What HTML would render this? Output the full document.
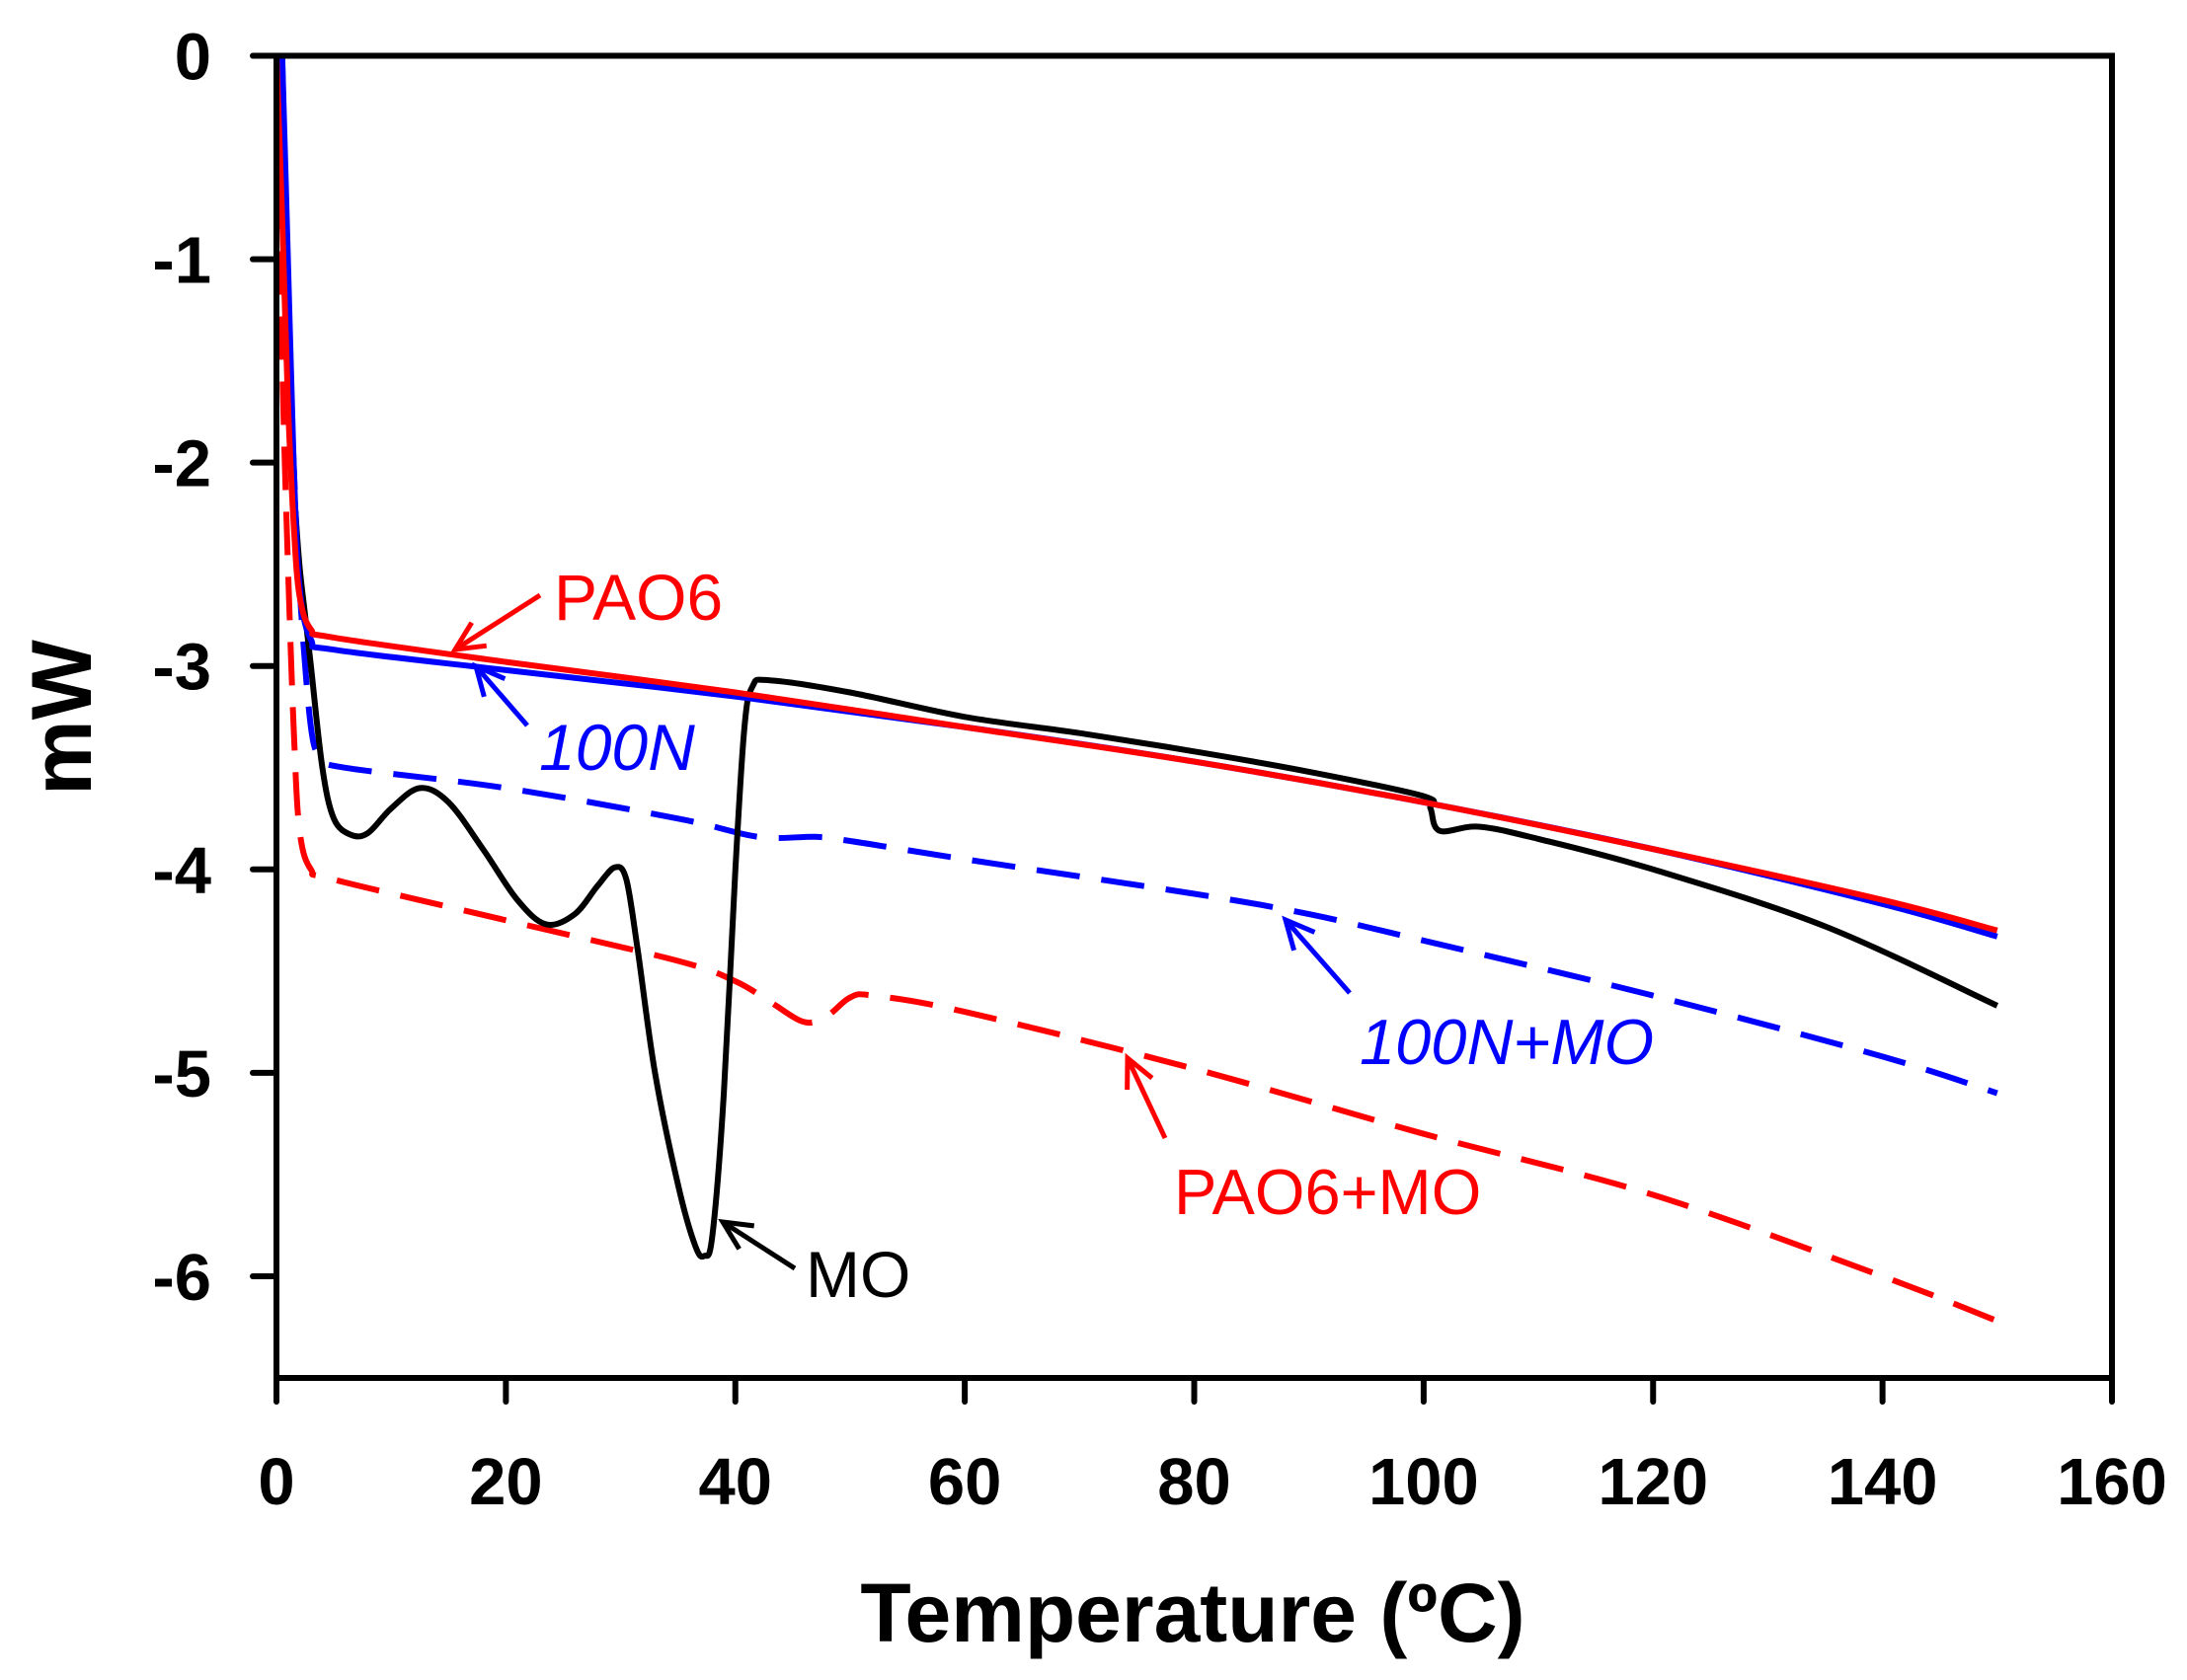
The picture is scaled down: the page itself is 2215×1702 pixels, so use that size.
<!DOCTYPE html>
<html><head><meta charset="utf-8"><style>
html,body{margin:0;padding:0;background:#fff;}
svg{display:block;font-family:"Liberation Sans",Arial,sans-serif;}
</style></head><body>
<svg id="chart" width="2215" height="1702" viewBox="0 0 2215 1702">
<g id="plot"></g>
</svg>
<script>
const xTicks=[0,20,40,60,80,100,120,140,160];
const yTicks=[0,-1,-2,-3,-4,-5,-6];
const moT=[0.3,0.7,1,1.5,2,2.5,3,4,5,6.5,8,10,12.5,15,18,21,23.5,26,28,29.5,30.5,31.5,33,35,36.5,37.3,38,39,40,40.8,41.5,43,50,60,70,80,90,100,100.6,101.4,104.8,110,120,135,150];
const moY=[0,-0.8,-1.5,-2.1,-2.5,-2.75,-3.0,-3.5,-3.75,-3.83,-3.82,-3.7,-3.6,-3.67,-3.9,-4.15,-4.27,-4.22,-4.08,-3.99,-4.05,-4.4,-5.0,-5.55,-5.85,-5.9,-5.8,-5.1,-4.0,-3.3,-3.1,-3.07,-3.13,-3.25,-3.33,-3.42,-3.52,-3.64,-3.7,-3.81,-3.79,-3.85,-4.0,-4.28,-4.67];
const paoT=[0,0.5,1,1.5,2,3,5,20,40,60,80,100,120,140,150];
const paoY=[0,-0.8,-1.7,-2.3,-2.65,-2.82,-2.86,-2.98,-3.13,-3.3,-3.47,-3.67,-3.9,-4.15,-4.3];
const nT=[0.5,1,1.5,2,3,5,20,40,60,80,100,120,140,150];
const nY=[0,-1,-2,-2.6,-2.87,-2.92,-3.02,-3.15,-3.3,-3.47,-3.67,-3.9,-4.17,-4.33];
const nmoT=[0.5,1,1.5,2,3,4,6,20,35,42,47,50,60,80,90,100,120,140,150];
const nmoY=[0,-1.2,-2.0,-2.6,-3.3,-3.45,-3.5,-3.6,-3.75,-3.84,-3.84,-3.86,-3.95,-4.12,-4.22,-4.35,-4.62,-4.92,-5.1];
const pmoT=[0,0.5,1,1.5,2,3,5,20,35,40,43,46,48,50,52,60,80,100,120,140,150];
const pmoY=[0,-1.5,-2.5,-3.3,-3.8,-4.0,-4.05,-4.25,-4.45,-4.55,-4.65,-4.75,-4.72,-4.63,-4.62,-4.7,-4.98,-5.3,-5.6,-6.0,-6.22];

const L=280,R=2139,T=56.5,B=1396;
const X=v=>L+(v-0)/160*(R-L);
const Y=v=>T+(0-v)/6.5*(B-T);
const NS="http://www.w3.org/2000/svg";
const g=document.getElementById('plot');
function el(tag,attrs,parent){const e=document.createElementNS(NS,tag);for(const k in attrs)e.setAttribute(k,attrs[k]);(parent||g).appendChild(e);return e;}

function smoothPath(ts,ys){
  const p=ts.map((t,i)=>[X(t),Y(ys[i])]);
  let d='M'+p[0][0].toFixed(1)+','+p[0][1].toFixed(1);
  for(let i=0;i<p.length-1;i++){
    const p0=p[i-1]||p[i],p1=p[i],p2=p[i+1],p3=p[i+2]||p2;
    const c1=[p1[0]+(p2[0]-p0[0])/6,p1[1]+(p2[1]-p0[1])/6];
    const c2=[p2[0]-(p3[0]-p1[0])/6,p2[1]-(p3[1]-p1[1])/6];
    d+=` C${c1[0].toFixed(1)},${c1[1].toFixed(1)} ${c2[0].toFixed(1)},${c2[1].toFixed(1)} ${p2[0].toFixed(1)},${p2[1].toFixed(1)}`;
  }
  return d;
}
function series(ts,ys,color,dash,name){
  const p=el('path',{d:smoothPath(ts,ys),fill:'none',stroke:color,'stroke-width':6,'stroke-linejoin':'round','stroke-dasharray':dash||'none'});
  
  
}
series(pmoT,pmoY,'#f00','44 22','series-pao6-mo');
series(nmoT,nmoY,'#00f','44 22','series-100n-mo');
series(moT,moY,'#000','','series-mo');
series(nT,nY,'#00f','','series-100n');
series(paoT,paoY,'#f00','','series-pao6');

const box=el('rect',{x:L,y:T,width:R-L,height:B-T,fill:'none',stroke:'#000','stroke-width':6});


xTicks.forEach(v=>{
  const t=el('line',{x1:X(v),x2:X(v),y1:B,y2:B+24,stroke:'#000','stroke-width':6,'stroke-linecap':'round'});
  
  
  const tx=el('text',{x:X(v),y:1524,'font-size':67,'font-weight':'bold','text-anchor':'middle'});
  tx.textContent=v;
  
  
});
yTicks.forEach(v=>{
  const t=el('line',{x1:L-24,x2:L,y1:Y(v),y2:Y(v),stroke:'#000','stroke-width':6,'stroke-linecap':'round'});
  
  
  const tx=el('text',{x:214,y:Y(v)+24,'font-size':67,'font-weight':'bold','text-anchor':'end'});
  tx.textContent=v;
  
  
});
const xt=el('text',{x:1208,y:1663,'font-size':84,'font-weight':'bold','text-anchor':'middle'});
xt.textContent='Temperature (ºC)';


const yt=el('text',{x:0,y:0,'font-size':86,'font-weight':'bold','text-anchor':'middle',transform:'translate(92,727) rotate(-90)'});
yt.textContent='mW';



function label(txt,x,y,color,italic,size,ax1,ay1,ax2,ay2,name){
  const t=el('text',{x:x,y:y,'font-size':size,fill:color,'font-style':italic?'italic':'normal'});
  t.textContent=txt;
  
  
  const a=el('line',{x1:ax1,y1:ay1,x2:ax2,y2:ay2,stroke:color,'stroke-width':5});
  
  
  const ang=Math.atan2(ay2-ay1,ax2-ax1),s=32,w=0.45;
  const h=el('path',{d:`M${ax2-s*Math.cos(ang-w)},${ay2-s*Math.sin(ang-w)} L${ax2},${ay2} L${ax2-s*Math.cos(ang+w)},${ay2-s*Math.sin(ang+w)}`,fill:'none',stroke:color,'stroke-width':5});
  
  
}
label('PAO6',561,628,'#f00',false,66,547,603,461,658,'pao6');
label('100N',546,780,'#00f',true,66,534,735,482,675,'100n');
label('100N+MO',1377,1078,'#00f',true,65,1367,1006,1302,932,'100n-mo');
label('PAO6+MO',1189,1230,'#f00',false,65,1180,1153,1142,1072,'pao6-mo');
label('MO',816,1314,'#000',false,66,805,1285,732,1238,'mo');
</script>
</body></html>
